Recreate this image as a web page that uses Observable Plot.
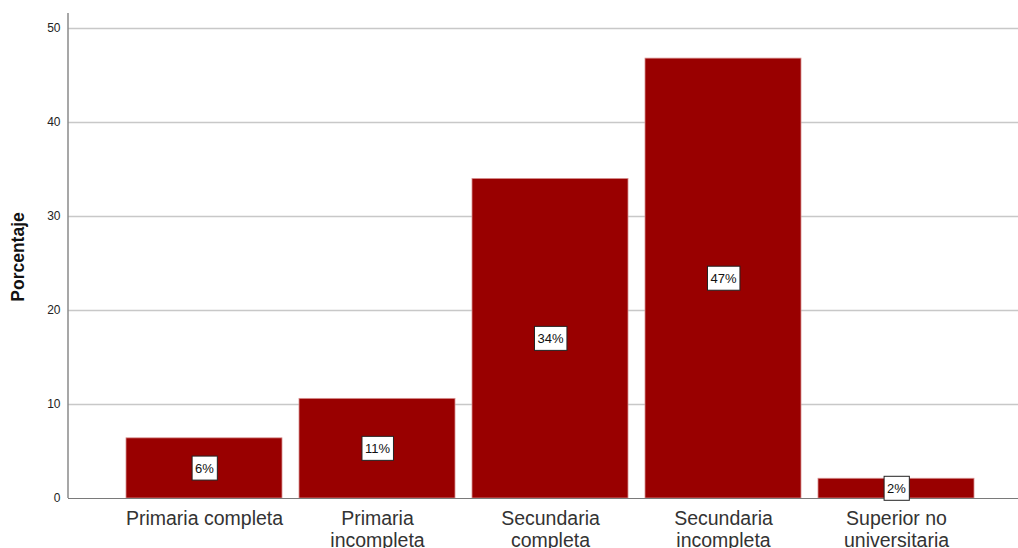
<!DOCTYPE html>
<html>
<head>
<meta charset="utf-8">
<script src="https://cdn.jsdelivr.net/npm/d3@7"></script>
<script src="https://cdn.jsdelivr.net/npm/@observablehq/plot@0.6"></script>
<style>
  html, body { margin: 0; padding: 0; background: #fff; }
  #chart svg { display: block; font-family: "Liberation Sans", Arial, sans-serif; }
</style>
</head>
<body>
<div id="chart"></div>
<script>
const categories = ["Primaria completa", "Primaria incompleta", "Secundaria completa", "Secundaria incompleta", "Superior no universitaria"];
const tickLabels = ["Primaria completa", "Primaria\nincompleta", "Secundaria\ncompleta", "Secundaria\nincompleta", "Superior no\nuniversitaria"];
const values = [6.4, 10.6, 34.0, 46.8, 2.1];
const pctLabels = ["6%", "11%", "34%", "47%", "2%"];
const yTicks = [0, 10, 20, 30, 40, 50];

const data = categories.map((c, i) => ({cat: c, value: values[i], label: pctLabels[i], tick: tickLabels[i]}));
const tickMap = new Map(categories.map((c, i) => [c, tickLabels[i]]));

const W = 1018, H = 548;
const chart = Plot.plot({
  width: W,
  height: H,
  marginLeft: 68,
  marginRight: 0,
  marginTop: 13,
  marginBottom: 50,
  style: {fontFamily: "Liberation Sans, Arial, sans-serif", background: "#fff"},
  x: {domain: categories, range: [108, 991], padding: 0.1, label: null, axis: null},
  y: {domain: [0, 51.6], ticks: yTicks, label: null, tickSize: 0, tickPadding: 8, tickFormat: d3.format("d")},
  marks: [
    Plot.ruleY(yTicks.filter(d => d > 0), {stroke: "#c8c8c8", strokeWidth: 1.5}),
    Plot.barY(data, {x: "cat", y: "value", fill: "#990000", stroke: "#d89090", strokeWidth: 0.8}),
    Plot.ruleY([0], {stroke: "#7a7a7a", strokeWidth: 1.2}),
    Plot.axisX({tickSize: 0, tickPadding: 0, tickFormat: d => tickMap.get(d), fontSize: 19.5, lineHeight: 1.12, dy: 11, fill: "#333", label: null}),
    Plot.text(data, {x: "cat", y: d => d.value / 2, text: "label", fontSize: 13, fill: "#111", className: "pct"})
  ]
});
document.getElementById("chart").appendChild(chart);

const svg = d3.select(chart);
svg.selectAll("[aria-label='y-axis tick label']").attr("font-size", 12).attr("fill", "#222");

// y axis line
svg.append("line")
  .attr("x1", 68).attr("x2", 68).attr("y1", 13).attr("y2", 498)
  .attr("stroke", "#8a8a8a").attr("stroke-width", 1.5);

// y axis title
svg.append("text")
  .attr("transform", "translate(24,257) rotate(-90)")
  .attr("text-anchor", "middle")
  .attr("font-size", 17.5).attr("font-weight", "bold").attr("fill", "#111")
  .attr("font-family", "Liberation Sans, Arial, sans-serif")
  .text("Porcentaje");

// boxes behind pct labels
svg.selectAll(".pct text").each(function() {
  const b = this.getBBox();
  const px = 3, py = 5;
  d3.select(this.parentNode).insert("rect", () => this)
    .attr("x", b.x - px).attr("y", b.y - py + 0.5)
    .attr("width", b.width + 2 * px).attr("height", b.height + 2 * py - 1)
    .attr("fill", "#fff").attr("stroke", "#222").attr("stroke-width", 1)
    .attr("transform", this.getAttribute("transform"));
});
</script>
</body>
</html>
